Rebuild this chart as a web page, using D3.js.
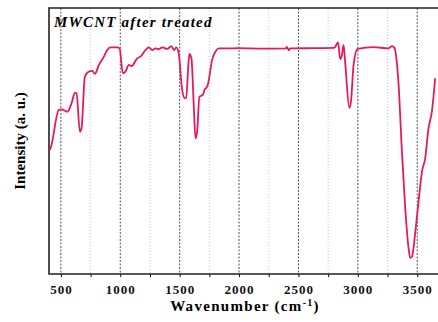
<!DOCTYPE html>
<html>
<head>
<meta charset="utf-8">
<script src="https://cdn.jsdelivr.net/npm/d3@7"></script>
<style>
  body { margin:0; background:#fff; }
  text { font-family:"Liberation Serif","Times New Roman",serif; font-weight:bold; }
</style>
</head>
<body>
<div id="chart"></div>
<script>
!(function(){
    "use strict"

    // FTIR spectrum
    var wavenumber = [405, 413, 483, 506, 554, 590, 618, 632, 660, 674, 702, 735, 764, 786, 820, 862, 890, 918, 974, 994,
        1022, 1044, 1072, 1095, 1143, 1170, 1212, 1240, 1269, 1296, 1324, 1353, 1395, 1431, 1451, 1473, 1492,
        1521, 1543, 1555, 1572, 1582, 1599, 1619, 1633, 1647, 1666, 1694, 1711, 1731, 1740, 1773, 1801, 1829,
        1885, 2000, 2200, 2395, 2402, 2418, 2430, 2600, 2800, 2810, 2833, 2852, 2866, 2880, 2895, 2928, 2942,
        2964, 2998, 3133, 3259, 3287, 3307, 3343, 3371, 3399, 3427, 3441, 3456, 3484, 3511, 3540, 3567, 3595,
        3623, 3651]
    var intensity = [46.6, 47.3, 61.7, 61.9, 61.0, 64.2, 68.2, 67.9, 53.5, 54.9, 74.2, 76.1, 76.4, 75.2, 78.6, 81.7, 84.2, 85.2, 85.2, 84.8,
        75.5, 76.1, 78.6, 78.2, 81.1, 81.7, 84.2, 85.2, 84.2, 84.8, 84.5, 85.2, 84.6, 85.7, 84.2, 85.2, 83.0,
        69.2, 66.1, 66.1, 77.9, 82.7, 81.1, 62.9, 51.0, 53.5, 66.7, 67.3, 69.4, 70.4, 71.7, 80.5, 83.6, 84.8,
        84.8, 84.9, 84.7, 84.8, 85.4, 84.1, 84.8, 84.9, 85.0, 85.4, 87.1, 80.8, 82.3, 86.1, 78.6, 62.5, 64.8,
        78.6, 84.6, 85.3, 84.8, 85.7, 85.1, 71.1, 46.0, 24.7, 9.7, 6.1, 6.5, 15.9, 27.2, 38.5, 43.5, 54.8,
        61.0, 73.6]
    var majorTicks = [500, 1000, 1500, 2000, 2500, 3000, 3500]
    var minorTicks = [750, 1250, 1750, 2250, 2750, 3250]

    var width = 438, height = 322
    var margin = {top:8, left:49, bottom:48, right:-3}
    var chartWidth = width - margin.left - margin.right
    var chartHeight = height - margin.top - margin.bottom

    var data = wavenumber.map(function(d, i) { return {x:d, y:intensity[i]} })

    var svg = d3.select("#chart").append("svg")
        .attr("width", width).attr("height", height)
    var chartLayer = svg.append("g")
        .attr("transform", "translate("+[margin.left, margin.top]+")")

    var x = d3.scaleLinear().domain([400, 3700]).range([0, chartWidth])
    var y = d3.scaleLinear().domain([0, 100]).range([chartHeight, 0])

    // grid
    chartLayer.selectAll(".minor").data(minorTicks).enter().append("line")
        .attr("x1", x).attr("x2", x).attr("y1", 0).attr("y2", chartHeight)
        .attr("stroke", "#c8c8c8").attr("stroke-width", 1).attr("stroke-dasharray", "1,2")
    chartLayer.selectAll(".major").data(majorTicks).enter().append("line")
        .attr("x1", x).attr("x2", x).attr("y1", 0).attr("y2", chartHeight)
        .attr("stroke", "#555").attr("stroke-width", 1).attr("stroke-dasharray", "2,1.5")

    // bottom axis
    var xAxis = chartLayer.append("g")
        .attr("transform", "translate(0,"+chartHeight+")")
        .call(d3.axisBottom(x).tickValues(majorTicks).tickFormat(d3.format("d"))
            .tickSize(3).tickPadding(8).tickSizeOuter(0))
    xAxis.select(".domain").remove()
    xAxis.selectAll("text").attr("font-size", 13).attr("fill", "#111")
        .style("letter-spacing", "1px")
    chartLayer.append("g")
        .attr("transform", "translate(0,"+chartHeight+")")
        .call(d3.axisBottom(x).tickValues(minorTicks).tickSize(3).tickFormat("").tickSizeOuter(0))
        .select(".domain").remove()

    // frame
    chartLayer.append("path")
        .attr("d", "M"+x.range()[1]+",0H0V"+chartHeight+"H"+x.range()[1])
        .attr("fill", "none").attr("stroke", "#222").attr("stroke-width", 1.6)

    // spectrum
    var line = d3.line()
        .x(function(d) { return x(d.x) })
        .y(function(d) { return y(d.y) })
        .curve(d3.curveMonotoneX)
    chartLayer.append("path").datum(data)
        .attr("d", line)
        .attr("fill", "none").attr("stroke", "#e6195f").attr("stroke-width", 1.8)
        .attr("stroke-linejoin", "round")

    // title
    chartLayer.append("text")
        .attr("x", 5).attr("y", 19)
        .attr("font-size", 15).attr("font-style", "italic")
        .style("letter-spacing", "1.2px")
        .text("MWCNT after treated")

    // axis labels
    var xl = svg.append("text")
        .attr("x", 245).attr("y", 311)
        .attr("text-anchor", "middle").attr("font-size", 15)
        .style("letter-spacing", "1.3px")
    xl.append("tspan").text("Wavenumber (cm")
    xl.append("tspan").attr("dy", -5).attr("font-size", 10).text("-1")
    xl.append("tspan").attr("dy", 5).text(")")

    svg.append("text")
        .attr("transform", "translate(25,"+(margin.top+chartHeight/2)+") rotate(-90)")
        .attr("text-anchor", "middle").attr("font-size", 15)
        .text("Intensity (a. u.)")
}());
</script>
</body>
</html>
